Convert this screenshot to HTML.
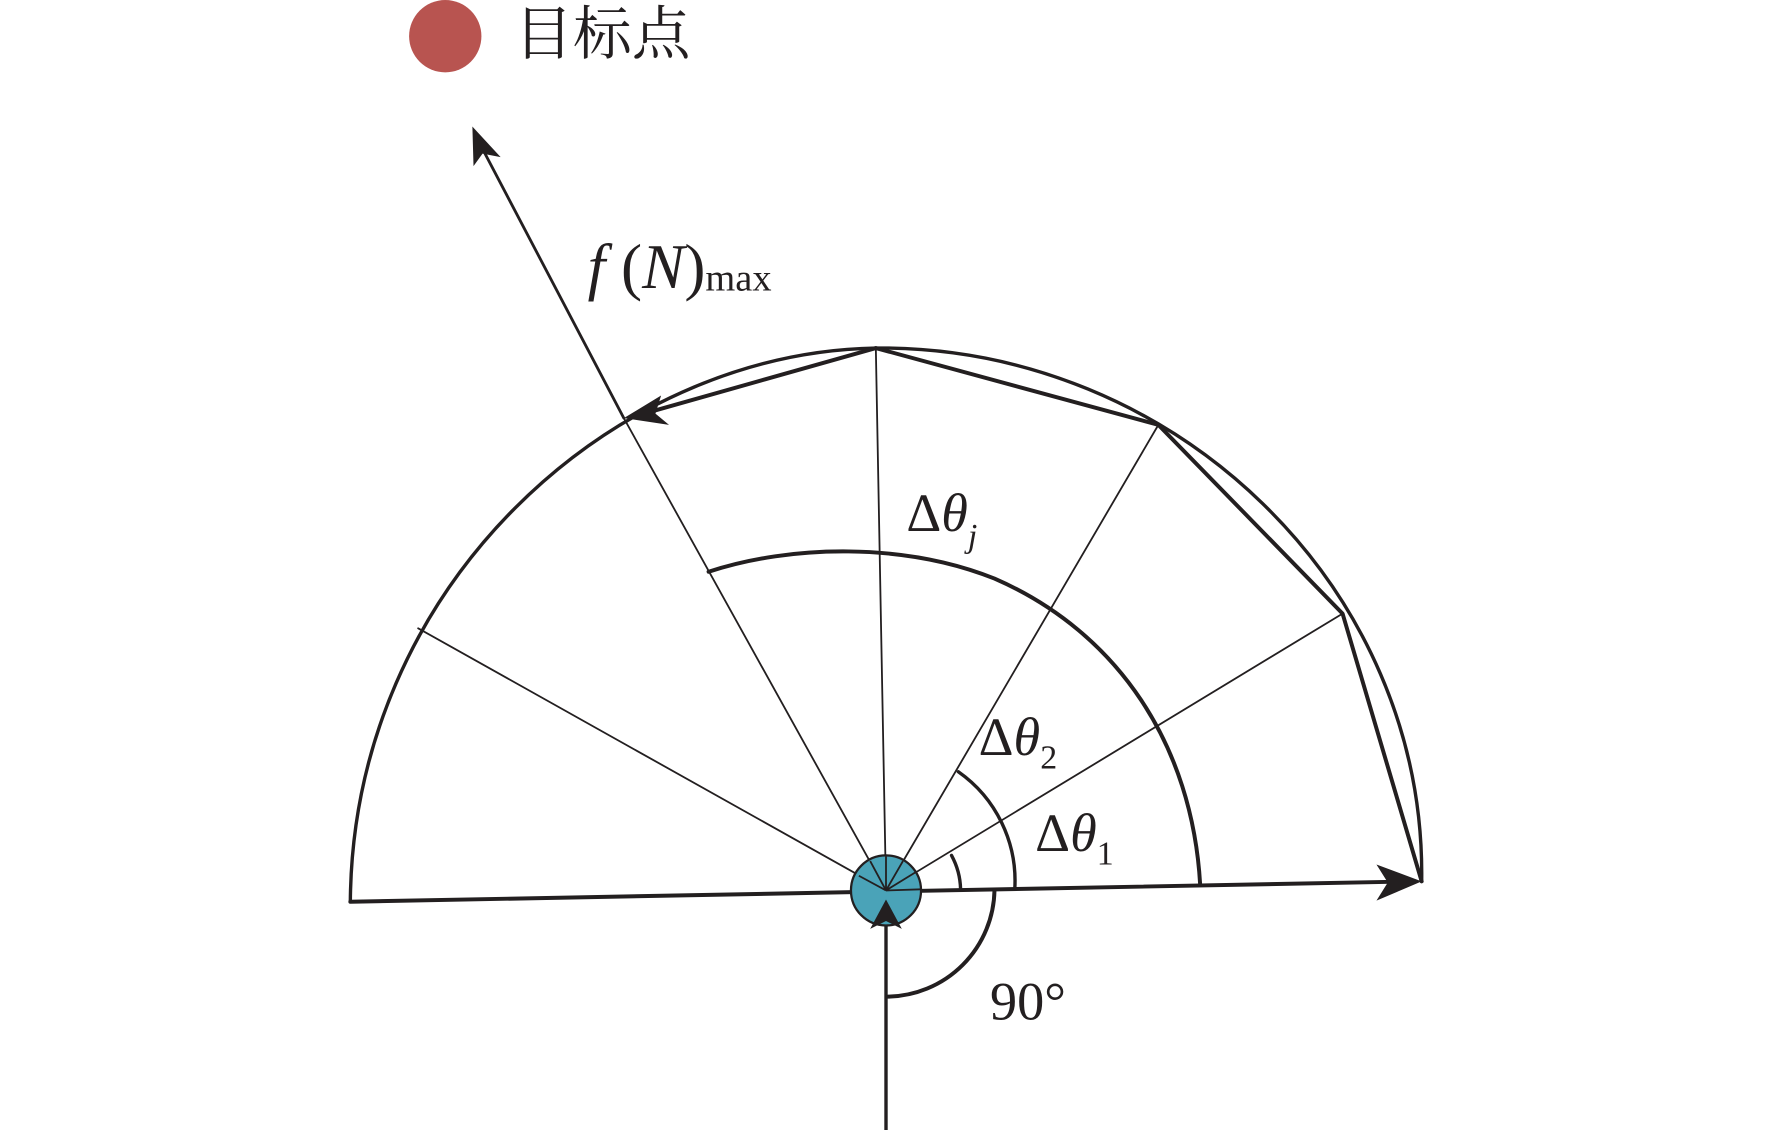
<!DOCTYPE html>
<html><head><meta charset="utf-8"><style>
html,body{margin:0;padding:0;background:#fff;}
svg{display:block;}
text{font-family:"Liberation Serif","Noto Serif CJK SC",serif;fill:#231f20;}
</style></head><body>
<svg width="1772" height="1130" viewBox="0 0 1568 1000" preserveAspectRatio="none" xmlns="http://www.w3.org/2000/svg">
<g stroke="#231f20" fill="none" stroke-linecap="round" stroke-linejoin="round">
  <path d="M310,798 C312,520 540,312 775,308 C1040,306 1262,520 1258,780" stroke-width="3"/>
  <line x1="310" y1="798" x2="1250" y2="780" stroke-width="3.5"/>
  <g stroke-width="1.6">
    <line x1="784" y1="788" x2="370" y2="556"/>
    <line x1="784" y1="788" x2="552" y2="370"/>
    <line x1="784" y1="788" x2="775" y2="308"/>
    <line x1="784" y1="788" x2="1025" y2="376"/>
    <line x1="784" y1="788" x2="1188" y2="543"/>
  </g>
  <line x1="552" y1="370" x2="425" y2="128" stroke-width="2.5"/>
  <polyline points="1258,780 1188,543 1025,376 775,308 570,366" stroke-width="3.5"/>
  <path d="M627,506 C700,482 800,480 880,512 C990,560 1055,660 1062,783" stroke-width="3.5"/>
  <path d="M848,683 A118 118 0 0 1 898,786" stroke-width="3"/>
  <path d="M842,757 A66 66 0 0 1 850,787" stroke-width="3"/>
  <path d="M880,788 A96 96 0 0 1 786,882" stroke-width="3.5"/>
  <line x1="784" y1="1000" x2="784" y2="820" stroke-width="3"/>
</g>
<circle cx="784" cy="788" r="31" fill="#4aa3b8" stroke="#231f20" stroke-width="2"/>
<g stroke="#231f20" stroke-width="1.6">
  <line x1="784" y1="788" x2="760" y2="775"/>
  <line x1="784" y1="788" x2="770" y2="762"/>
  <line x1="784" y1="788" x2="784" y2="758"/>
  <line x1="784" y1="788" x2="799" y2="762"/>
  <line x1="784" y1="788" x2="810" y2="772"/>
  <line x1="784" y1="788" x2="815" y2="787"/>
</g>
<g fill="#231f20">
  <polygon points="1258,780 1218,797 1228,781 1218,765"/>
  <polygon points="784,796 770,822 784,815 798,822"/>
  <polygon points="552,370 592,376 580,366 585,350"/>
  <polygon points="418,112 419,147 427,136 443,139"/>
</g>
<circle cx="394" cy="32" r="32" fill="#b85450"/>
<text x="455" y="48" font-size="52" font-family="'Noto Serif CJK SC','Noto Sans CJK SC',serif">目标点</text>
<text x="520" y="255" font-size="56"><tspan font-style="italic">f</tspan> (<tspan font-style="italic">N</tspan>)<tspan font-size="34" dy="2">max</tspan></text>
<text x="802" y="470" font-size="48">Δ<tspan font-style="italic">θ</tspan><tspan font-size="30" font-style="italic" dy="14">j</tspan></text>
<text x="866" y="668" font-size="48">Δ<tspan font-style="italic">θ</tspan><tspan font-size="30" dy="12">2</tspan></text>
<text x="916" y="753" font-size="48">Δ<tspan font-style="italic">θ</tspan><tspan font-size="30" dy="12">1</tspan></text>
<text x="876" y="902" font-size="48">90°</text>
</svg>
</body></html>
